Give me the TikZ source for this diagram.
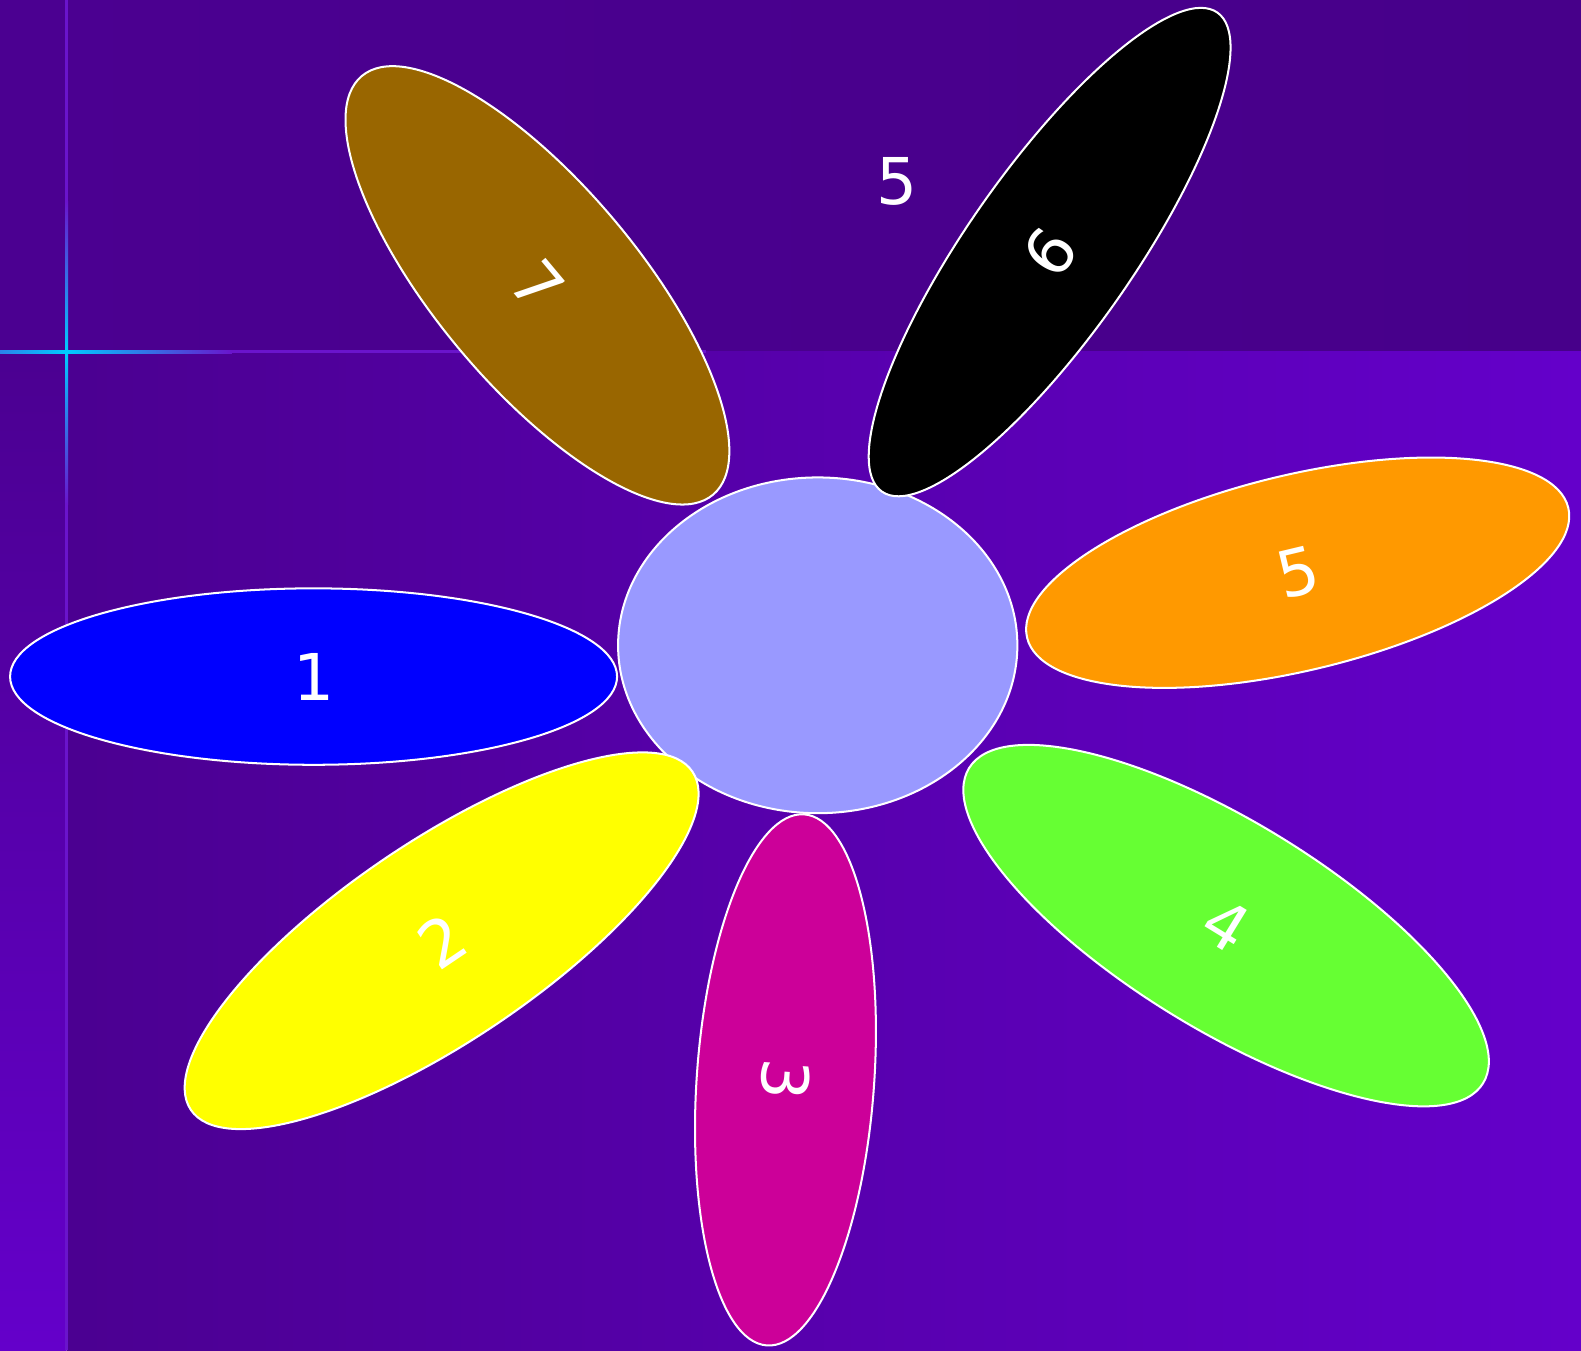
\documentclass[tikz,border=0pt]{standalone}
\usepackage{fontspec}
\setmainfont{DejaVu Sans}
\usepackage{xcolor}
\usepackage{tikz}
\usetikzlibrary{shapes.geometric}

\definecolor{bgdark}{HTML}{4B0091}
\definecolor{bgtopright}{HTML}{47008A}
\definecolor{bglight}{HTML}{6400CA}
\definecolor{bgline}{HTML}{6A14CC}
\definecolor{glow}{HTML}{00CCFF}
\definecolor{hubfill}{HTML}{9999FF}
\definecolor{petalblue}{HTML}{0000FF}
\definecolor{petalyellow}{HTML}{FFFF00}
\definecolor{petalmagenta}{HTML}{CC0099}
\definecolor{petalgreen}{HTML}{66FF33}
\definecolor{petalorange}{HTML}{FF9900}
\definecolor{petalbrown}{HTML}{996600}

\begin{document}
\begin{tikzpicture}[x=1pt, y=-1pt,
  petal/.style={ellipse, draw=white, line width=2pt, text=white, inner sep=0pt, font=\fontsize{64}{64}\selectfont}]
  \useasboundingbox (0,0) rectangle (1568,1339);

  % Background
  \shade[left color=bgdark, right color=bgtopright] (0,0) rectangle (1568,349);
  \shade[left color=bgdark, right color=bglight] (66,349) rectangle (1568,1339);
  \shade[top color=bgdark, bottom color=bglight] (0,349) rectangle (66,1339);

  % Corner lines and highlight
  \draw[line width=2.5pt, bgline] (66,0) -- (66,1339);
  \draw[line width=3pt, bgline] (0,349) -- (700,349);
  \shade[left color=glow!60!bgline, right color=glow] (0,347.5) rectangle (66,350.5);
  \shade[left color=glow, right color=bgline] (66,347.5) rectangle (230,350.5);
  \shade[top color=bgline, bottom color=glow] (64.5,200) rectangle (67.5,349);
  \shade[top color=glow, bottom color=bgline] (64.5,349) rectangle (67.5,500);

  % Hub
  \node[ellipse, draw=white, line width=2pt, fill=hubfill, minimum width=396, minimum height=333] (hub) at (811,640) {};

  % Petals
  \node[petal, fill=petalblue, minimum width=602, minimum height=175] (p1) at (311,671) {1};
  \node[petal, fill=petalyellow, minimum width=600, minimum height=198, rotate=34] (p2) at (438,933) {2};
  \node[petal, fill=petalmagenta, minimum width=528, minimum height=176, rotate=-94] (p3) at (779,1071) {3};
  \node[petal, fill=petalgreen, minimum width=598, minimum height=206, rotate=-31.5] (p4) at (1216,918) {4};
  \node[petal, fill=petalorange, minimum width=552, minimum height=194, rotate=13.5] (p5) at (1287,568) {5};
  \node[petal, fill=black, minimum width=580, minimum height=164, rotate=55] (p6) at (1041,250) {6};
  \node[petal, fill=petalbrown, minimum width=542, minimum height=200, rotate=-50] (p7) at (533,283) {7};

  % Loose label
  \node[text=white, font=\fontsize{64}{64}\selectfont] (stray) at (890,180) {5};

\end{tikzpicture}
\end{document}
